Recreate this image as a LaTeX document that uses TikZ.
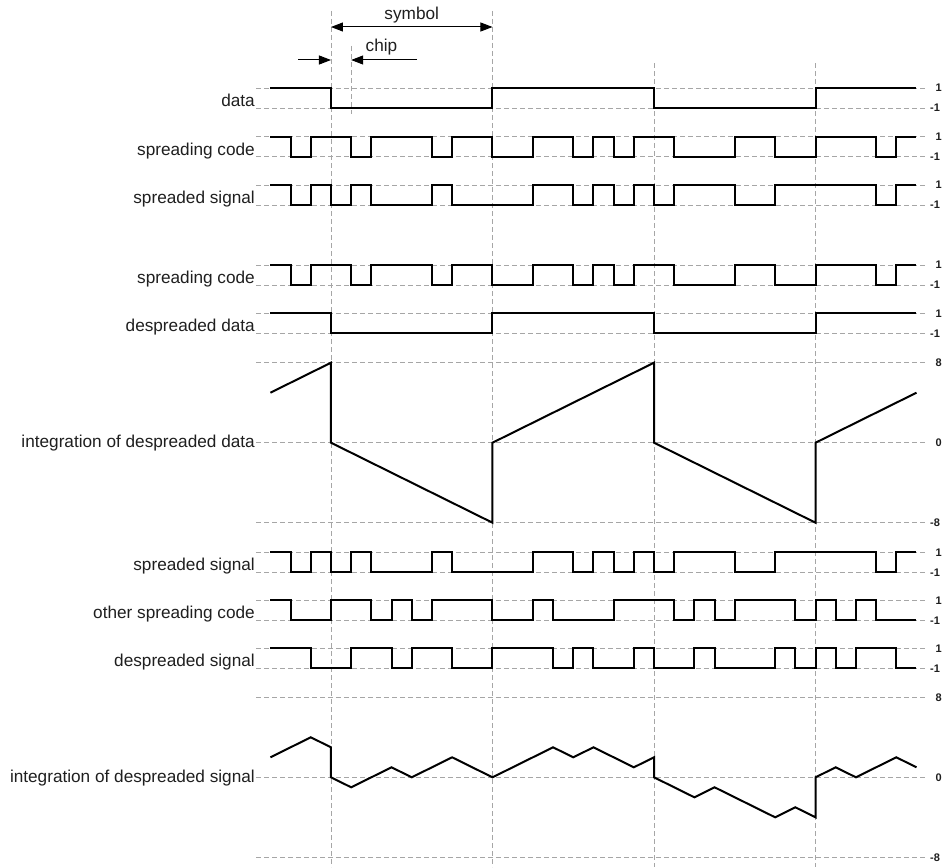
\documentclass[tikz,border=0pt]{standalone}
\usepackage{fontspec}
\setmainfont{Liberation Sans}
\usetikzlibrary{arrows.meta}
\pgfmathdeclarefunction{chipx}{1}{\pgfmathparse{270.4+20.19*#1}}
\newcommand\wavedraw[3]{%
  \draw[wavel] ({chipx(0)},{#1-10*(#2)}) foreach \v [count=\i from 0] in {#3} { -- ({chipx(\i)},{#1-10*(\v)}) -- ({chipx(\i+1)},{#1-10*(\v)}) };}
\newcommand\binrow[5]{% name, mid, label, first, list
  \draw[gridln] (256,{#2-10}) -- (926,{#2-10});
  \draw[gridln] (256,{#2+10}) -- (926,{#2+10});
  \node[lbl] (#1) at (255,{#2+8.5}) {#3};
  \node[tlbl] (#1-hi) at (935.5,{#2-10}) {1};
  \node[tlbl] (#1-lo) at (930,{#2+10}) {-1};
  \wavedraw{#2}{#4}{#5}}
\newcommand\introw[4]{% name, zero, label, points
  \draw[gridln] (256,{#2-80}) -- (926,{#2-80});
  \draw[gridln] (256,{#2}) -- (926,{#2});
  \draw[gridln] (256,{#2+80}) -- (926,{#2+80});
  \node[lbl] (#1) at (255,{#2+5}) {#3};
  \node[tlbl] (#1-hi) at (935.5,{#2-80}) {8};
  \node[tlbl] (#1-mid) at (935.5,{#2}) {0};
  \node[tlbl] (#1-lo) at (930,{#2+80}) {-8};
  \draw[wavel] #4;}
\begin{document}
\begin{tikzpicture}[x=1pt,y=-1pt,
  gridln/.style={draw=black!35, line width=0.8pt, dash pattern=on 5pt off 3pt},
  wavel/.style={draw=black, line width=2pt, line join=miter},
  lbl/.style={font=\fontsize{17.2}{20}\selectfont, text=black!88, anchor=base east, inner sep=0pt},
  tlbl/.style={font=\fontsize{11}{12}\selectfont\bfseries, text=black!88, anchor=west, inner sep=0pt},
  dimarr/.style={draw=black, line width=1pt},
  tip/.tip={Triangle[length=12pt,width=9pt]},
]
\useasboundingbox (0,0) rectangle (944,867);
\fill[white] (0,0) rectangle (944,867);
% vertical dashed lines
\foreach \c/\t in {3/11, 11/11, 19/63, 27/63}
  \draw[gridln] ({chipx(\c)},\t) -- ({chipx(\c)},867);
\draw[gridln] ({chipx(4)},46) -- ({chipx(4)},114);
% symbol and chip dimensions
\coordinate (s1) at ({chipx(3)},27);
\coordinate (s2) at ({chipx(11)},27);
\draw[dimarr, tip-tip] (s1) -- (s2);
\node[font=\fontsize{17.2}{20}\selectfont, text=black!88, inner sep=0pt] (symlbl) at ({(chipx(3)+chipx(11))/2},15) {symbol};
\coordinate (c1) at (298,60);
\coordinate (c2) at ({chipx(3)},60);
\coordinate (c3) at (417,60);
\coordinate (c4) at ({chipx(4)},60);
\draw[dimarr, -tip] (c1) -- (c2);
\draw[dimarr, -tip] (c3) -- (c4);
\node[font=\fontsize{17.2}{20}\selectfont, text=black!88, inner sep=0pt] (chiplbl) at (381.5,47) {chip};
% rows
\binrow{data}{98}{data}{1}{1,1,1,-1,-1,-1,-1,-1,-1,-1,-1,1,1,1,1,1,1,1,1,-1,-1,-1,-1,-1,-1,-1,-1,1,1,1,1,1}
\binrow{code}{146.7}{spreading code}{1}{1,-1,1,1,-1,1,1,1,-1,1,1,-1,-1,1,1,-1,1,-1,1,1,-1,-1,-1,1,1,-1,-1,1,1,1,-1,1}
\binrow{spread}{195}{spreaded signal}{1}{1,-1,1,-1,1,-1,-1,-1,1,-1,-1,-1,-1,1,1,-1,1,-1,1,-1,1,1,1,-1,-1,1,1,1,1,1,-1,1}
\binrow{codeb}{275}{spreading code}{1}{1,-1,1,1,-1,1,1,1,-1,1,1,-1,-1,1,1,-1,1,-1,1,1,-1,-1,-1,1,1,-1,-1,1,1,1,-1,1}
\binrow{despdata}{323.3}{despreaded data}{1}{1,1,1,-1,-1,-1,-1,-1,-1,-1,-1,1,1,1,1,1,1,1,1,-1,-1,-1,-1,-1,-1,-1,-1,1,1,1,1,1}
\introw{intdata}{442.7}{integration of despreaded data}{({chipx(0)},392.7) foreach \c/\v in {3/8,3/0,11/-8,11/0,19/8,19/0,27/-8,27/0,32/5} { -- ({chipx(\c)},{442.7-10*(\v)}) }}
\binrow{spreadb}{562.3}{spreaded signal}{1}{1,-1,1,-1,1,-1,-1,-1,1,-1,-1,-1,-1,1,1,-1,1,-1,1,-1,1,1,1,-1,-1,1,1,1,1,1,-1,1}
\binrow{other}{610.3}{other spreading code}{1}{1,-1,-1,1,1,-1,1,-1,1,1,1,-1,-1,1,-1,-1,-1,1,1,1,-1,1,-1,1,1,1,-1,1,-1,1,-1,-1}
\binrow{despsig}{658.3}{despreaded signal}{1}{1,1,-1,-1,1,1,-1,1,1,-1,-1,1,1,1,-1,1,-1,-1,1,-1,-1,1,-1,-1,-1,1,-1,1,-1,1,1,-1}
\introw{intsig}{777.3}{integration of despreaded signal}{({chipx(0)},757.3) foreach \c/\v in {1/3,2/4,3/3,3/0,4/-1,5/0,6/1,7/0,8/1,9/2,10/1,11/0,12/1,13/2,14/3,15/2,16/3,17/2,18/1,19/2,19/0,20/-1,21/-2,22/-1,23/-2,24/-3,25/-4,26/-3,27/-4,27/0,28/1,29/0,30/1,31/2,32/1} { -- ({chipx(\c)},{777.3-10*(\v)}) }}
\end{tikzpicture}
\end{document}
